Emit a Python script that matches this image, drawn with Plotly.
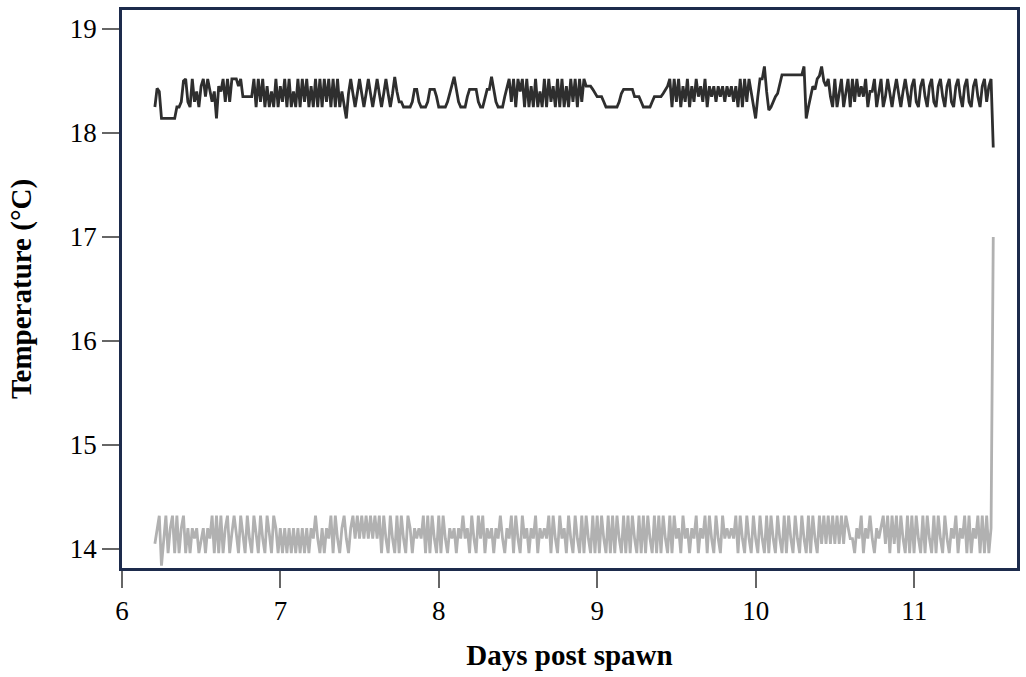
import plotly.graph_objects as go

# Logger sampling: first reading (days post spawn) and interval (days)
first_day = 6.2075
interval_days = 1 / 72  # 20-minute readings

# Warm treatment temperatures (°C)
warm_temp = [
    18.25, 18.43, 18.40, 18.14, 18.14, 18.14, 18.14, 18.14, 18.14, 18.14, 18.25, 18.25,
    18.30, 18.50, 18.52, 18.30, 18.25, 18.52, 18.30, 18.40, 18.25, 18.45, 18.52, 18.35,
    18.52, 18.40, 18.30, 18.40, 18.14, 18.45, 18.40, 18.52, 18.30,
    18.52, 18.30, 18.52, 18.52, 18.52, 18.45, 18.52, 18.35, 18.35, 18.35, 18.35, 18.35,
    18.52, 18.25, 18.52, 18.30, 18.52, 18.25, 18.45, 18.25, 18.40, 18.25,
    18.52, 18.25, 18.45, 18.30, 18.52, 18.25, 18.52, 18.25, 18.40, 18.25,
    18.52, 18.25, 18.52, 18.30, 18.52, 18.25, 18.45, 18.25, 18.52, 18.25,
    18.52, 18.25, 18.52, 18.30, 18.52, 18.25, 18.52, 18.25, 18.52, 18.25,
    18.40, 18.25,
    18.14,
    18.38, 18.52, 18.38, 18.25, 18.38, 18.52, 18.38, 18.25, 18.38, 18.52, 18.38, 18.25,
    18.38, 18.52, 18.38, 18.25, 18.38, 18.52, 18.38, 18.25, 18.38, 18.54, 18.40, 18.30,
    18.30, 18.25, 18.25, 18.25, 18.25, 18.30, 18.42, 18.42, 18.30, 18.25, 18.25, 18.25,
    18.30, 18.42, 18.42, 18.42,
    18.35, 18.25, 18.25, 18.25, 18.25, 18.30, 18.38, 18.45, 18.54, 18.42, 18.30, 18.25,
    18.25, 18.25, 18.35, 18.42, 18.42, 18.42, 18.42, 18.30, 18.25, 18.25, 18.35, 18.42,
    18.42, 18.54, 18.42, 18.30, 18.25, 18.25, 18.25, 18.35, 18.45,
    18.52, 18.30, 18.52, 18.25, 18.52, 18.40, 18.52, 18.25, 18.52, 18.25, 18.45, 18.25,
    18.52, 18.25, 18.40, 18.25, 18.52, 18.25, 18.52, 18.30, 18.45, 18.25, 18.52, 18.25,
    18.52, 18.25, 18.45, 18.25, 18.52, 18.30, 18.52, 18.25, 18.52, 18.30, 18.52, 18.45,
    18.45, 18.45, 18.42, 18.38, 18.35, 18.35, 18.35, 18.30, 18.25, 18.25, 18.25, 18.25,
    18.25, 18.25, 18.30, 18.38, 18.42, 18.42, 18.42, 18.42, 18.42, 18.35, 18.35, 18.35,
    18.30, 18.25, 18.25, 18.25, 18.25, 18.30, 18.35, 18.35, 18.35, 18.35, 18.38, 18.42,
    18.45, 18.52,
    18.25, 18.52, 18.30, 18.52, 18.25, 18.45, 18.30, 18.52, 18.25, 18.45, 18.30, 18.52,
    18.35, 18.45, 18.30, 18.52, 18.25, 18.45, 18.35, 18.45, 18.30, 18.45, 18.35, 18.45,
    18.30, 18.45, 18.35, 18.45, 18.30, 18.45, 18.25, 18.52, 18.25, 18.52, 18.30, 18.52,
    18.40, 18.25, 18.14, 18.35, 18.52, 18.52, 18.64, 18.40, 18.22, 18.25, 18.30, 18.35,
    18.38, 18.48, 18.56,
    18.56, 18.56, 18.56, 18.56, 18.56, 18.56, 18.56, 18.56, 18.56,
    18.64, 18.14,
    18.25, 18.35, 18.45, 18.42, 18.52, 18.55, 18.64, 18.50, 18.45, 18.52, 18.35, 18.25,
    18.52, 18.25, 18.40, 18.52, 18.25, 18.40, 18.52, 18.25, 18.52, 18.30,
    18.52, 18.35, 18.45, 18.35, 18.52, 18.25, 18.40, 18.40, 18.52, 18.25,
    18.40, 18.52, 18.25, 18.35, 18.52, 18.38, 18.25, 18.40, 18.52, 18.38,
    18.25, 18.40, 18.52, 18.38, 18.25, 18.45, 18.52, 18.30, 18.25, 18.45,
    18.52, 18.35, 18.25, 18.45, 18.52, 18.30, 18.25, 18.45, 18.52, 18.35,
    18.25, 18.45, 18.52, 18.30, 18.25, 18.45, 18.52, 18.35, 18.25, 18.45,
    18.52, 18.30, 18.25, 18.45, 18.52, 18.35, 18.25, 18.45, 18.52, 18.30,
    18.45, 18.52,
    17.86,
]

# Cool treatment temperatures (°C)
cool_temp = [
    14.05, 14.20, 14.32, 13.84, 14.10, 14.32, 13.96, 14.20, 14.32, 13.96, 14.32, 13.96,
    14.20, 14.32, 13.96, 14.20, 13.96, 14.20, 14.10, 14.20, 13.96, 14.10, 14.20, 13.96,
    14.20, 14.10, 14.32, 13.96, 14.32, 13.96, 14.32, 13.96, 14.20, 14.32,
    13.96, 14.15, 14.32, 14.15, 13.96, 14.32, 14.15, 13.96, 14.32, 14.10, 13.96, 14.32,
    14.15, 13.96, 14.32, 14.10, 13.96, 14.32, 14.15, 13.96, 14.32, 14.20, 13.96,
    14.20, 13.96, 14.20, 13.96, 14.20, 13.96, 14.20, 13.96, 14.20, 13.96, 14.20, 13.96,
    14.20, 13.96, 14.20,
    14.10, 14.32, 14.10, 13.96, 14.20, 13.96, 14.20, 14.10, 14.32, 13.96, 14.32, 14.10,
    13.96, 14.20, 14.32, 14.10, 13.96,
    14.20, 14.32, 14.10, 14.32, 14.10, 14.32, 14.10, 14.32, 14.10, 14.32, 14.10, 14.32,
    14.10, 14.32, 13.96, 14.32,
    14.10, 13.96, 14.32, 14.10, 13.96, 14.32, 13.96, 14.32, 14.10, 13.96, 14.32, 14.20,
    13.96, 14.20, 14.10, 14.20, 14.10, 14.32, 13.96, 14.32, 13.96, 14.32, 14.10, 13.96,
    14.32, 13.96, 14.32, 14.10, 13.96, 14.20, 14.10, 14.20, 13.96, 14.20, 14.10, 14.32,
    14.10, 14.20, 13.96, 14.32, 14.10, 13.96, 14.32, 14.10, 14.32, 13.96, 14.20, 14.10,
    14.20, 13.96, 14.20, 14.10, 14.32, 14.10, 13.96, 14.20, 14.10, 14.32, 13.96, 14.32,
    14.10, 13.96, 14.32, 14.10, 14.20, 13.96, 14.20, 14.10, 14.32, 13.96, 14.20, 14.10,
    14.20, 14.10, 14.32, 13.96, 14.32, 14.10, 13.96, 14.32, 14.10, 14.20, 13.96, 14.32,
    14.10, 13.96, 14.32, 14.10,
    13.96, 14.32, 13.96, 14.32, 14.10, 13.96, 14.32, 13.96, 14.32, 13.96, 14.32, 14.10,
    13.96, 14.32, 13.96, 14.32, 13.96, 14.32, 14.10, 13.96, 14.32, 13.96, 14.32, 13.96,
    14.32, 14.10, 13.96, 14.32, 13.96, 14.32, 13.96, 14.32, 14.10, 13.96, 14.32, 13.96,
    14.32, 13.96, 14.32, 14.10, 13.96, 14.32, 13.96, 14.32, 14.10, 14.20, 13.96, 14.32,
    14.10, 14.20, 13.96, 14.20, 14.10, 14.32,
    13.96, 14.20, 14.10, 14.32, 13.96, 14.32, 14.10, 13.96, 14.32, 14.10, 13.96, 14.32,
    14.10, 14.20, 14.10, 14.20, 14.10, 14.32, 13.96, 14.32, 14.10, 13.96, 14.32, 14.10,
    13.96, 14.32, 14.10, 13.96, 14.32, 14.10, 13.96, 14.32, 13.96, 14.32, 14.10, 13.96,
    14.32, 14.10, 13.96, 14.32, 13.96, 14.32, 14.10, 13.96, 14.32, 14.10, 13.96, 14.32,
    14.10, 13.96, 14.32, 13.96, 14.32, 14.10, 13.96, 14.32,
    14.05, 14.32, 14.05, 14.32, 14.05, 14.32, 14.05, 14.32, 14.05, 14.32, 14.05, 14.32,
    14.20, 14.10, 14.10, 13.96, 14.20, 14.10, 14.32, 13.96, 14.20, 14.10, 14.32, 14.10,
    13.96, 14.20, 14.10,
    14.20, 14.32, 14.05, 14.32, 13.96, 14.32, 14.05, 14.32, 13.96, 14.32, 14.10, 13.96,
    14.32, 13.96, 14.32, 13.96,
    14.32, 14.10, 13.96, 14.32, 13.96, 14.32, 14.10, 13.96, 14.32, 13.96, 14.32, 14.10,
    13.96, 14.32, 14.10, 13.96, 14.20, 14.10, 14.32, 13.96, 14.20, 14.10, 14.32, 13.96,
    14.32, 13.96, 14.20, 14.10, 14.32, 13.96, 14.32, 13.96, 14.32, 13.96, 14.20,
    17.00,
]

x_ticks = [6, 7, 8, 9, 10, 11]
y_ticks = [14, 15, 16, 17, 18, 19]

warm_days = [first_day + i * interval_days for i in range(len(warm_temp))]
cool_days = [first_day + i * interval_days for i in range(len(cool_temp))]

FONT = "Liberation Serif"
NAVY = "#1d2b4c"

fig = go.Figure()
fig.add_trace(go.Scatter(x=cool_days, y=cool_temp, mode="lines",
                         line=dict(color="#b1b1b1", width=2.8), name="Cool"))
fig.add_trace(go.Scatter(x=warm_days, y=warm_temp, mode="lines",
                         line=dict(color="#2e2e2e", width=2.8), name="Warm"))

fig.update_layout(
    width=1026, height=677,
    margin=dict(l=122, r=6, t=10, b=109),
    paper_bgcolor="white", plot_bgcolor="white",
    showlegend=False,
    font=dict(family=FONT, color="black", size=27),
)
fig.update_xaxes(
    range=[6, 11.649], tickvals=x_ticks, ticktext=[str(v) for v in x_ticks],
    showgrid=False, zeroline=False,
    showline=True, linecolor=NAVY, linewidth=2.5, mirror=True,
    ticks="outside", ticklen=17, tickwidth=1.5, tickcolor="#666666",
    tickfont=dict(family=FONT, size=27, color="black"),
    title=dict(text="<b>Days post spawn</b>", font=dict(family=FONT, size=29, color="black"),
               standoff=20),
)
fig.update_yaxes(
    range=[13.817, 19.183], tickvals=y_ticks, ticktext=[str(v) for v in y_ticks],
    showgrid=False, zeroline=False,
    showline=True, linecolor=NAVY, linewidth=2.5, mirror=True,
    ticks="outside", ticklen=17, tickwidth=1.5, tickcolor="#666666",
    tickfont=dict(family=FONT, size=27, color="black"),
    title=dict(text="<b>Temperature (°C)</b>", font=dict(family=FONT, size=29, color="black"),
               standoff=30),
)

fig.write_html("out.html")
